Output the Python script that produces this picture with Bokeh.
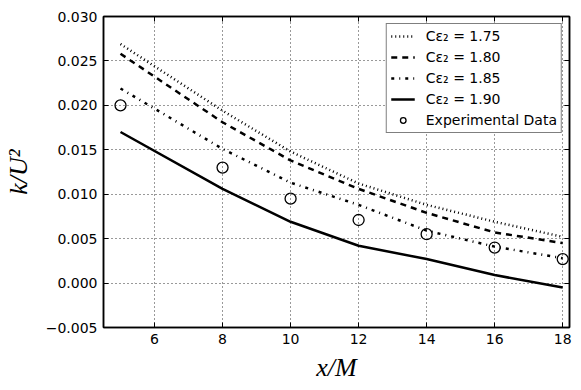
from bokeh.plotting import figure
from bokeh.embed import file_html
from bokeh.resources import INLINE
from bokeh.models import (LinearAxis, Legend, LegendItem, Range1d, FixedTicker,
                          CustomJSTickFormatter)

x_pos = [5, 8, 10, 12, 14, 16, 18]
k_175 = [0.0269, 0.0194, 0.0148, 0.0112, 0.0088, 0.0069, 0.0052]
k_180 = [0.0258, 0.0181, 0.0138, 0.0106, 0.0079, 0.0057, 0.0045]
k_185 = [0.0219, 0.0151, 0.0113, 0.0088, 0.0059, 0.0041, 0.0028]
k_190 = [0.0170, 0.0106, 0.0069, 0.0042, 0.0027, 0.0009, -0.0005]
k_exp = [0.0200, 0.0130, 0.0095, 0.0071, 0.0055, 0.0040, 0.0027]

labels = ["C\u03b5\u2082 = 1.75", "C\u03b5\u2082 = 1.80", "C\u03b5\u2082 = 1.85",
          "C\u03b5\u2082 = 1.90", "Experimental Data"]
x_ticks = [6, 8, 10, 12, 14, 16, 18]
y_ticks = [-0.005, 0.0, 0.005, 0.010, 0.015, 0.020, 0.025, 0.030]

p = figure(width=575, height=384, output_backend="svg", toolbar_location=None,
           x_range=Range1d(4.5, 18.2), y_range=Range1d(-0.005, 0.030),
           min_border_left=103, min_border_right=6, min_border_top=16,
           min_border_bottom=57, background_fill_color="white",
           border_fill_color="white")
p.outline_line_color = "black"
p.outline_line_width = 1.5

yfmt = CustomJSTickFormatter(code="return tick.toFixed(3).replace('-', '\u2212');")
blank = CustomJSTickFormatter(code="return '';")

for ax in (p.xaxis[0], p.yaxis[0]):
    ax.major_tick_in = 5
    ax.major_tick_out = 0
    ax.minor_tick_in = 0
    ax.minor_tick_out = 0
    ax.axis_line_color = "black"
    ax.axis_line_width = 1.5
    ax.major_label_text_font = "DejaVu Sans"
    ax.major_label_text_font_size = "14px"
    ax.major_label_text_color = "black"
    ax.axis_label_text_font = "Liberation Serif"
    ax.axis_label_text_font_style = "italic"
    ax.axis_label_text_font_size = "26px"
    ax.axis_label_text_color = "black"

p.xaxis[0].ticker = FixedTicker(ticks=x_ticks)
p.yaxis[0].ticker = FixedTicker(ticks=y_ticks)
p.yaxis[0].formatter = yfmt
p.xaxis[0].axis_label = "x/M"
p.yaxis[0].axis_label = "k/U\u00b2"
p.xaxis[0].major_label_standoff = 6
p.yaxis[0].major_label_standoff = 6
p.xaxis[0].axis_label_standoff = 6
p.yaxis[0].axis_label_standoff = 10

for loc, tk in (("above", x_ticks), ("right", y_ticks)):
    a = LinearAxis(ticker=FixedTicker(ticks=tk), formatter=blank,
                   major_tick_in=5, major_tick_out=0,
                   minor_tick_in=0, minor_tick_out=0, major_label_standoff=0,
                   axis_line_color="black", axis_line_width=1.5)
    p.add_layout(a, loc)

p.grid.grid_line_color = "#333333"
p.grid.grid_line_dash = "1 3"
p.grid.grid_line_width = 1
p.xgrid.ticker = FixedTicker(ticks=x_ticks)
p.ygrid.ticker = FixedTicker(ticks=y_ticks)

r1 = p.line(x_pos, k_175, line_color="black", line_width=2.5, line_dash="1 3")
r2 = p.line(x_pos, k_180, line_color="black", line_width=2.5, line_dash="6 5")
r3 = p.line(x_pos, k_185, line_color="black", line_width=2.5, line_dash="3 5 1 5")
r4 = p.line(x_pos, k_190, line_color="black", line_width=2.5)
r5 = p.scatter(x_pos, k_exp, marker="circle", size=11, fill_color=None,
               line_color="black", line_width=1.3)

legend = Legend(items=[LegendItem(label=labels[i], renderers=[r])
                       for i, r in enumerate([r1, r2, r3, r4, r5])],
                location="top_right", padding=4, spacing=5, glyph_width=24,
                glyph_height=14, label_height=14, label_standoff=11, margin=7,
                border_line_color="black", border_line_width=1.5,
                label_text_font="DejaVu Sans", label_text_font_size="14px",
                label_text_color="black", background_fill_alpha=1.0)
p.add_layout(legend, "center")

open("out.html", "w").write(file_html(p, INLINE))
